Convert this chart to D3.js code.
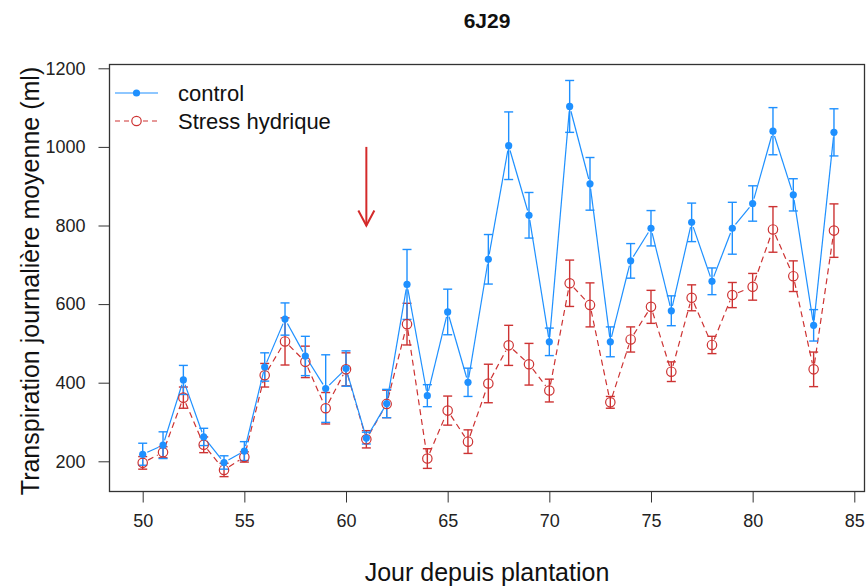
<!DOCTYPE html>
<html>
<head>
<meta charset="utf-8">
<script src="https://cdn.jsdelivr.net/npm/d3@7"></script>
<style>
  body { margin: 0; background: #fff; }
  svg { display: block; font-family: Arial, "Liberation Sans", sans-serif; }
</style>
</head>
<body>
<svg id="chart" width="866" height="587"></svg>
<script>
// ---- data ----
const days = [50,51,52,53,54,55,56,57,58,59,60,61,62,63,64,65,66,67,68,69,70,71,72,73,74,75,76,77,78,79,80,81,82,83,84];
const controlMean = [218,241,407,262,197,226,440,562,468,385,436,259,347,650,367,580,401,714,1003,826,504,1103,906,504,710,793,583,808,658,793,856,1040,878,546,1037];
const controlErr  = [28,34,37,22,17,24,36,41,50,86,45,15,36,89,28,58,36,63,86,58,35,66,67,38,44,45,38,49,34,66,45,60,41,40,60];
const stressMean  = [196,223,362,242,178,211,419,505,453,335,434,256,346,549,207,329,250,398,495,447,380,653,598,350,510,593,428,616,496,623,644,790,671,434,787];
const stressErr   = [16,14,27,20,17,13,30,60,40,40,42,22,35,53,25,37,30,49,51,53,29,59,56,15,32,42,25,33,22,32,34,58,39,44,68];
const xTicks = [50,55,60,65,70,75,80,85];
const yTicks = [200,400,600,800,1000,1200];
const seriesNames = ["control", "Stress hydrique"];
const arrowDay = [61, 61];
const arrowVals = [1000, 800];

// ---- layout ----
const svg = d3.select("#chart");
const box = {left: 109.5, right: 864.5, top: 64.5, bottom: 491.5};
const x = d3.scaleLinear().domain([50, 85]).range([142.7, 854.3]);
const y = d3.scaleLinear().domain([200, 1200]).range([461.3, 68.3]);

const blue = "#1E90FF";
const red = "#CD3333";
const axisCol = "#333";

// title
svg.append("text").attr("x", 487).attr("y", 28).attr("text-anchor", "middle")
  .attr("font-weight", "bold").attr("font-size", 21).attr("fill", "#111").text("6J29");

// axes
const xAxis = d3.axisBottom(x).tickValues(xTicks).tickSize(11).tickPadding(12).tickFormat(d3.format("d"));
const gx = svg.append("g").attr("transform", `translate(0,${box.bottom})`).call(xAxis);
gx.select(".domain").remove();
gx.selectAll("line").attr("stroke", axisCol);
gx.selectAll("text").attr("font-size", 18).attr("fill", "#222");

const yAxis = d3.axisLeft(y).tickValues(yTicks).tickSize(11).tickPadding(13).tickFormat(d3.format("d"));
const gy = svg.append("g").attr("transform", `translate(${box.left},0)`).call(yAxis);
gy.select(".domain").remove();
gy.selectAll("line").attr("stroke", axisCol);
gy.selectAll("text").attr("font-size", 18).attr("fill", "#222");

// box
svg.append("rect").attr("x", box.left).attr("y", box.top)
  .attr("width", box.right - box.left).attr("height", box.bottom - box.top)
  .attr("fill", "none").attr("stroke", axisCol).attr("stroke-width", 1.3);

// axis titles
svg.append("text").attr("x", 487).attr("y", 581).attr("text-anchor", "middle")
  .attr("font-size", 25).attr("fill", "#111").text("Jour depuis plantation");
svg.append("text").attr("transform", "translate(39,281) rotate(-90)").attr("text-anchor", "middle")
  .attr("font-size", 25).attr("fill", "#111").text("Transpiration journalière moyenne (ml)");

// helper: type "b" segments with gaps around points
function gappedSegments(means, gap) {
  const segs = [];
  for (let i = 0; i < days.length - 1; i++) {
    const x0 = x(days[i]), y0 = y(means[i]), x1 = x(days[i+1]), y1 = y(means[i+1]);
    const dx = x1 - x0, dy = y1 - y0, len = Math.hypot(dx, dy);
    if (len <= 2 * gap) continue;
    const ux = dx / len, uy = dy / len;
    segs.push([x0 + ux*gap, y0 + uy*gap, x1 - ux*gap, y1 - uy*gap]);
  }
  return segs;
}

function drawSeries(means, errs, color, dashed, gap) {
  const g = svg.append("g");
  // error bars
  const eb = g.selectAll("g.eb").data(days.map((d,i)=>({d, m: means[i], e: errs[i]}))).join("g");
  eb.append("line").attr("x1", d=>x(d.d)).attr("x2", d=>x(d.d))
    .attr("y1", d=>y(d.m - d.e)).attr("y2", d=>y(d.m + d.e))
    .attr("stroke", color).attr("stroke-width", 1.4);
  [-1, 1].forEach(s => {
    eb.append("line").attr("x1", d=>x(d.d)-4.5).attr("x2", d=>x(d.d)+4.5)
      .attr("y1", d=>y(d.m + s*d.e)).attr("y2", d=>y(d.m + s*d.e))
      .attr("stroke", color).attr("stroke-width", 1.4);
  });
  // connecting lines
  g.selectAll("line.seg").data(gappedSegments(means, gap)).join("line")
    .attr("x1", d=>d[0]).attr("y1", d=>d[1]).attr("x2", d=>d[2]).attr("y2", d=>d[3])
    .attr("stroke", color).attr("stroke-width", 1.2)
    .attr("stroke-dasharray", dashed ? "6,4" : null);
}

drawSeries(stressMean, stressErr, red, true, 6);
drawSeries(controlMean, controlErr, blue, false, 5);

// points
svg.append("g").selectAll("circle").data(days).join("circle")
  .attr("cx", (d)=>x(d)).attr("cy", (d,i)=>y(stressMean[i])).attr("r", 4.7)
  .attr("fill", "none").attr("stroke", red).attr("stroke-width", 1.2);
svg.append("g").selectAll("circle").data(days).join("circle")
  .attr("cx", (d)=>x(d)).attr("cy", (d,i)=>y(controlMean[i])).attr("r", 3.6)
  .attr("fill", blue);

// arrow
const ax = x(arrowDay[0]), ay0 = y(arrowVals[0]), ay1 = y(arrowVals[1]);
svg.append("line").attr("x1", ax).attr("x2", ax).attr("y1", ay0).attr("y2", ay1)
  .attr("stroke", "#D42A2A").attr("stroke-width", 2);
svg.append("path").attr("d", `M${ax-8},${ay1-15} L${ax},${ay1} L${ax+8},${ay1-15}`)
  .attr("fill", "none").attr("stroke", "#D42A2A").attr("stroke-width", 2);

// legend
const leg = svg.append("g");
const legY = [93, 121];
leg.append("line").attr("x1", 115).attr("x2", 158).attr("y1", legY[0]).attr("y2", legY[0])
  .attr("stroke", blue).attr("stroke-width", 1.2);
leg.append("circle").attr("cx", 136.5).attr("cy", legY[0]).attr("r", 3.6).attr("fill", blue);
leg.append("line").attr("x1", 115).attr("x2", 130).attr("y1", legY[1]).attr("y2", legY[1])
  .attr("stroke", red).attr("stroke-width", 1.2).attr("stroke-dasharray", "5,4");
leg.append("line").attr("x1", 143).attr("x2", 158).attr("y1", legY[1]).attr("y2", legY[1])
  .attr("stroke", red).attr("stroke-width", 1.2).attr("stroke-dasharray", "5,4");
leg.append("circle").attr("cx", 136.5).attr("cy", legY[1]).attr("r", 4.7)
  .attr("fill", "none").attr("stroke", red).attr("stroke-width", 1.2);
leg.selectAll("text").data(seriesNames).join("text")
  .attr("x", 178).attr("y", (d,i)=>legY[i] + 8).attr("font-size", 22).attr("fill", "#111").text(d=>d);
</script>
</body>
</html>
